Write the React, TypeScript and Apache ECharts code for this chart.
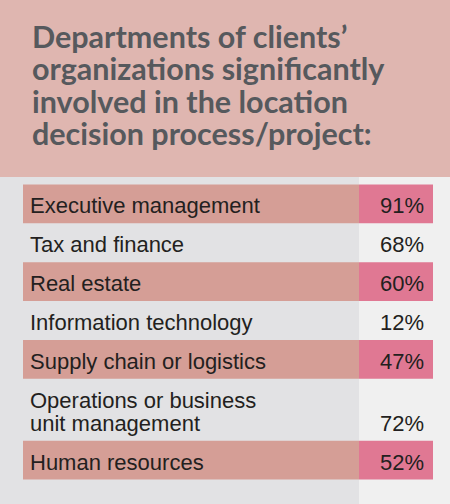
import React, { useEffect, useRef } from "react";
import * as echarts from "echarts";

const titleLines = [
  "Departments of clients’",
  "organizations significantly",
  "involved in the location",
  "decision process/project:",
];
const categories = [
  "Executive management",
  "Tax and finance",
  "Real estate",
  "Information technology",
  "Supply chain or logistics",
  "Operations or business\nunit management",
  "Human resources",
];
const values = [91, 68, 60, 12, 47, 72, 52];

const ROW_PAD = 16;
const LINE_H = 23;
const SPLIT = 336 / 410;

export default function App() {
  const ref = useRef<HTMLDivElement>(null);
  useEffect(() => {
    if (!ref.current) return;
    const chart = echarts.init(ref.current, undefined, { renderer: "svg" });
    const heights = categories.map((c) => ROW_PAD + LINE_H * c.split("\n").length);
    const starts: number[] = [];
    let acc = 0;
    heights.forEach((h) => {
      starts.push(acc);
      acc += h;
    });
    const total = acc;
    const labelFont = "'Liberation Sans', Arial, sans-serif";
    chart.setOption({
      animation: false,
      backgroundColor: "#e2e2e4",
      title: {
        text: titleLines.join("\n"),
        left: 32,
        top: 20,
        padding: 0,
        textStyle: {
          fontFamily: "Lato, sans-serif",
          fontWeight: 700,
          fontSize: 30.5,
          lineHeight: 32.3,
          color: "#56595d",
        },
      },
      graphic: [
        { type: "rect", z: -10, shape: { x: 0, y: 0, width: 450, height: 177 }, style: { fill: "#dfb6b0" } },
        { type: "rect", z: -10, shape: { x: 359, y: 177, width: 91, height: 327 }, style: { fill: "#f0f0f0" } },
      ],
      grid: { left: 23, right: 17, top: 184.5, bottom: 24.5, containLabel: false },
      xAxis: { type: "value", min: 0, max: 1, show: false },
      yAxis: { type: "value", min: 0, max: total, inverse: true, show: false },
      series: [
        {
          type: "custom",
          data: values.map((v, i) => [i, v]),
          renderItem: (params: any, api: any) => {
            const i = api.value(0);
            const v = api.value(1);
            const y0 = api.coord([0, starts[i]])[1];
            const y1 = api.coord([0, starts[i] + heights[i]])[1];
            const xL = api.coord([0, 0])[0];
            const xS = api.coord([SPLIT, 0])[0];
            const xR = api.coord([1, 0])[0];
            const shaded = i % 2 === 0;
            const children: any[] = [];
            if (shaded) {
              children.push({ type: "rect", shape: { x: xL, y: y0, width: xS - xL, height: y1 - y0 }, style: { fill: "#d59e96" } });
              children.push({ type: "rect", shape: { x: xS, y: y0, width: xR - xS, height: y1 - y0 }, style: { fill: "#e07893" } });
            }
            children.push({
              type: "text",
              style: {
                text: categories[i],
                x: xL + 7,
                y: (y0 + y1) / 2 + 2,
                align: "left",
                verticalAlign: "middle",
                fontSize: 22,
                lineHeight: LINE_H,
                fontFamily: labelFont,
                fill: "#231f20",
              },
            });
            children.push({
              type: "text",
              style: {
                text: v + "%",
                x: xR - 9,
                y: y1 - (ROW_PAD + LINE_H) / 2 + 2,
                align: "right",
                verticalAlign: "middle",
                fontSize: 22,
                fontFamily: labelFont,
                fill: "#231f20",
              },
            });
            return { type: "group", children };
          },
        },
      ],
    });
    return () => chart.dispose();
  }, []);
  return <div ref={ref} style={{ position: "absolute", left: 0, top: 0, width: 450, height: 504 }} />;
}
